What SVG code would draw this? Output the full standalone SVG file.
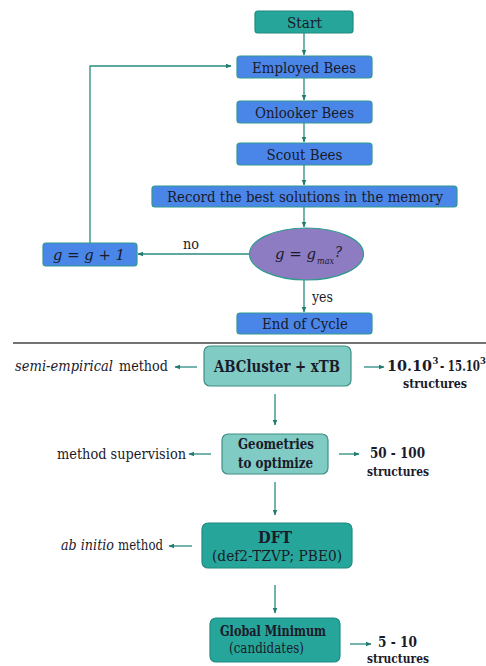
<svg xmlns="http://www.w3.org/2000/svg" width="486" height="666" viewBox="0 0 486 666" font-family="DejaVu Serif, serif" font-size="15.5">
<style>
.t{fill:#1a1a2a;text-anchor:middle}
.b{font-weight:bold}
.i{font-style:italic}
.l{text-anchor:start}
.blue{fill:#4a86e8;stroke:#2f9a8e;stroke-width:1.2}
.teal{fill:#26a69a;stroke:#1f8a80;stroke-width:1.2}
.lt{fill:#80cbc4;stroke:#3f8f86;stroke-width:1.2}
.c{stroke:#2a8a80;stroke-width:1.3;fill:none}
</style>
<defs>
<marker id="a" viewBox="0 0 10 10" refX="9" refY="5" markerWidth="6" markerHeight="6" orient="auto-start-reverse" markerUnits="userSpaceOnUse">
<path d="M0,1 L10,5 L0,9 z" fill="#1f7a70"/>
</marker>
</defs>
<rect width="486" height="666" fill="#ffffff"/>

<g id="connectors">
<line class="c" x1="304" y1="33" x2="304" y2="55" marker-end="url(#a)"/>
<line class="c" x1="304" y1="78" x2="304" y2="100" marker-end="url(#a)"/>
<line class="c" x1="304" y1="123" x2="304" y2="142" marker-end="url(#a)"/>
<line class="c" x1="304" y1="165" x2="304" y2="185" marker-end="url(#a)"/>
<line class="c" x1="304" y1="207" x2="304" y2="227" marker-end="url(#a)"/>
<line class="c" x1="249" y1="254" x2="138" y2="254" marker-end="url(#a)"/>
<polyline class="c" points="90,243 90,66 231,66" marker-end="url(#a)"/>
<line class="c" x1="304" y1="280" x2="304" y2="312" marker-end="url(#a)"/>
<line x1="13" y1="343" x2="486" y2="343" stroke="#444" stroke-width="1.3"/>
<line class="c" x1="197" y1="367" x2="175" y2="367" marker-end="url(#a)"/>
<line class="c" x1="364" y1="367" x2="384" y2="367" marker-end="url(#a)"/>
<line class="c" x1="275" y1="394" x2="275" y2="425" marker-end="url(#a)"/>
<line class="c" x1="211" y1="454" x2="189" y2="454" marker-end="url(#a)"/>
<line class="c" x1="339" y1="454" x2="359" y2="454" marker-end="url(#a)"/>
<line class="c" x1="275" y1="482" x2="275" y2="515" marker-end="url(#a)"/>
<line class="c" x1="192" y1="546" x2="169" y2="546" marker-end="url(#a)"/>
<line class="c" x1="275" y1="585" x2="275" y2="613" marker-end="url(#a)"/>
<line class="c" x1="350" y1="644" x2="371" y2="644" marker-end="url(#a)"/>
</g>

<g id="start"><rect class="teal" x="255" y="11" width="98" height="22" rx="3"/><text class="t" x="304.5" y="28" textLength="35" lengthAdjust="spacingAndGlyphs">Start</text></g>
<g id="employed"><rect class="blue" x="237" y="56" width="135" height="22" rx="3"/><text class="t" x="304" y="72.5" textLength="104" lengthAdjust="spacingAndGlyphs">Employed Bees</text></g>
<g id="onlooker"><rect class="blue" x="237" y="101" width="135" height="22" rx="3"/><text class="t" x="304.5" y="118" textLength="99" lengthAdjust="spacingAndGlyphs">Onlooker Bees</text></g>
<g id="scout"><rect class="blue" x="237" y="143" width="135" height="22" rx="3"/><text class="t" x="304.5" y="160" textLength="76" lengthAdjust="spacingAndGlyphs">Scout Bees</text></g>
<g id="record"><rect class="blue" x="152" y="186" width="305" height="21" rx="3"/><text class="t" x="305" y="202" textLength="276" lengthAdjust="spacingAndGlyphs">Record the best solutions in the memory</text></g>
<g id="decision"><ellipse cx="306.5" cy="254" rx="57" ry="26" fill="#8e7cc3" stroke="#2f9a8e" stroke-width="1.2"/>
<text class="t i l" x="275" y="259" textLength="41" lengthAdjust="spacingAndGlyphs">g = g</text>
<text class="t i l" x="317" y="264" font-size="9" textLength="17" lengthAdjust="spacingAndGlyphs">max</text>
<text class="t i l" x="335" y="257" textLength="7" lengthAdjust="spacingAndGlyphs">?</text></g>
<text class="t" x="191" y="249" textLength="16" lengthAdjust="spacingAndGlyphs">no</text>
<g id="increment"><rect class="blue" x="43" y="243" width="94" height="23" rx="3"/><text class="t i" x="89" y="259.5" textLength="72" lengthAdjust="spacingAndGlyphs">g = g + 1</text></g>
<text class="t l" x="312" y="302" textLength="21" lengthAdjust="spacingAndGlyphs">yes</text>
<g id="end"><rect class="blue" x="237" y="313" width="135" height="21" rx="3"/><text class="t" x="305" y="329" textLength="86" lengthAdjust="spacingAndGlyphs">End of Cycle</text></g>

<g id="abcluster"><rect class="lt" x="204" y="346" width="147" height="40" rx="6"/><text class="t b" x="277" y="371.5" font-size="16" textLength="126" lengthAdjust="spacingAndGlyphs">ABCluster + xTB</text></g>
<text class="t i l" x="15" y="371" textLength="98" lengthAdjust="spacingAndGlyphs">semi-empirical</text>
<text class="t l" x="119" y="371" textLength="49" lengthAdjust="spacingAndGlyphs">method</text>
<text class="t b l" x="387" y="371" font-size="14" textLength="45" lengthAdjust="spacingAndGlyphs">10.10</text>
<text class="t b l" x="432.5" y="364" font-size="8.5">3</text>
<text class="t b l" x="440" y="371" font-size="14" textLength="40" lengthAdjust="spacingAndGlyphs">- 15.10</text>
<text class="t b l" x="480" y="364" font-size="8.5">3</text>
<text class="t b" x="435" y="388" font-size="13.5" textLength="64" lengthAdjust="spacingAndGlyphs">structures</text>

<g id="geometries"><rect class="lt" x="222" y="434" width="106" height="40" rx="6"/><text class="t b" x="276" y="449" font-size="15" textLength="76" lengthAdjust="spacingAndGlyphs">Geometries</text><text class="t b" x="275.5" y="467.5" font-size="15" textLength="75" lengthAdjust="spacingAndGlyphs">to optimize</text></g>
<text class="t l" x="57" y="459" textLength="129" lengthAdjust="spacingAndGlyphs">method supervision</text>
<text class="t b" x="397.5" y="458" font-size="14.5" textLength="55" lengthAdjust="spacingAndGlyphs">50 - 100</text>
<text class="t b" x="398" y="475.5" font-size="13.5" textLength="62" lengthAdjust="spacingAndGlyphs">structures</text>

<g id="dft"><rect class="teal" x="202" y="523" width="150" height="45" rx="6"/><text class="t b" x="275" y="543" font-size="16" textLength="34" lengthAdjust="spacingAndGlyphs">DFT</text><text class="t" x="277" y="561" font-size="15" textLength="130" lengthAdjust="spacingAndGlyphs">(def2-TZVP; PBE0)</text></g>
<text class="t i l" x="61" y="550" textLength="53" lengthAdjust="spacingAndGlyphs">ab initio</text>
<text class="t l" x="118" y="550" textLength="45" lengthAdjust="spacingAndGlyphs">method</text>

<g id="global"><rect class="teal" x="210" y="618" width="130" height="44" rx="6"/><text class="t b" x="273" y="635.5" font-size="15" textLength="106" lengthAdjust="spacingAndGlyphs">Global Minimum</text><text class="t" x="266.5" y="653" font-size="15" textLength="75" lengthAdjust="spacingAndGlyphs">(candidates)</text></g>
<text class="t b" x="397.5" y="646.5" font-size="14.5" textLength="39" lengthAdjust="spacingAndGlyphs">5 - 10</text>
<text class="t b" x="398" y="662.5" font-size="13.5" textLength="62" lengthAdjust="spacingAndGlyphs">structures</text>
</svg>
